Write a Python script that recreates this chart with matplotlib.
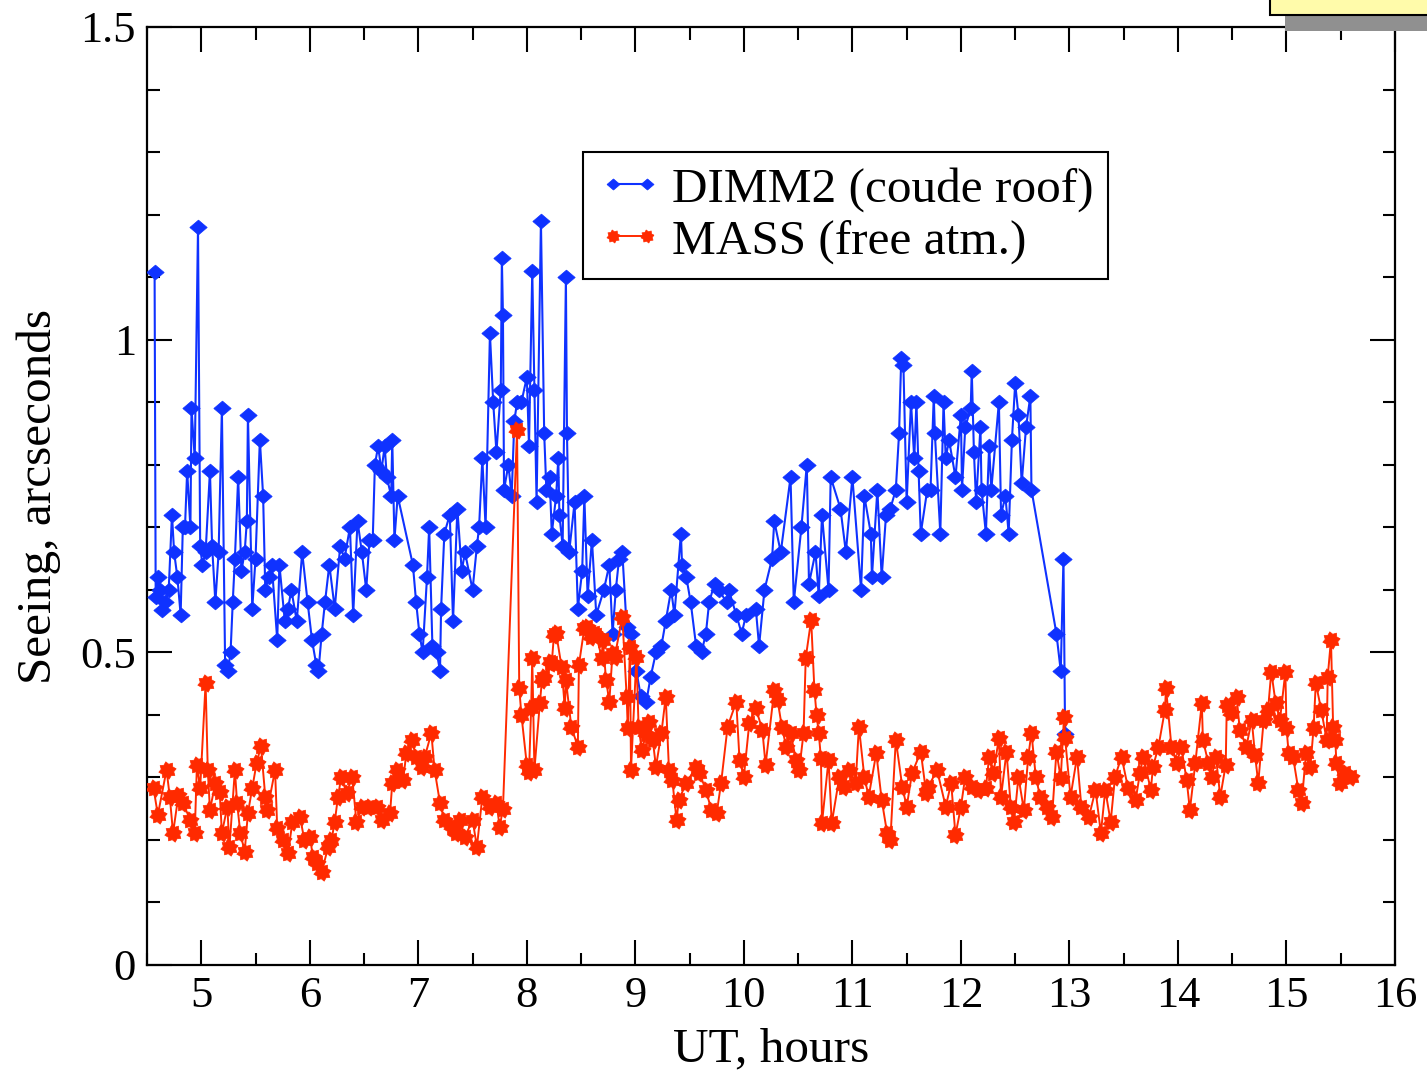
import matplotlib
matplotlib.use("Agg")
import math
import matplotlib.pyplot as plt
from matplotlib.patches import Rectangle
from matplotlib.ticker import MultipleLocator, FixedLocator

plt.rcParams['font.family'] = ['Liberation Serif', 'DejaVu Serif']

# ---------------- data ----------------
dimm_t = [4.57, 4.58, 4.60, 4.62, 4.64, 4.67, 4.70, 4.73, 4.75, 4.78, 4.81, 4.83, 4.85, 4.87, 4.90,
          4.91, 4.94, 4.97, 4.99, 5.01, 5.04, 5.08, 5.10, 5.13, 5.16, 5.19, 5.22, 5.245, 5.27, 5.29,
          5.31, 5.34, 5.37, 5.40, 5.42, 5.43, 5.47, 5.50, 5.54, 5.57, 5.59, 5.62, 5.65, 5.70, 5.72,
          5.77, 5.80, 5.83, 5.88, 5.93, 5.98, 6.02, 6.06, 6.08, 6.11, 6.14, 6.18, 6.23, 6.28, 6.32,
          6.37, 6.40, 6.44, 6.48, 6.52, 6.55, 6.58, 6.60, 6.63, 6.66, 6.69, 6.71, 6.75, 6.76, 6.78,
          6.81, 6.95, 6.98, 7.01, 7.04, 7.08, 7.10, 7.13, 7.17, 7.20, 7.21, 7.24, 7.29, 7.32, 7.36,
          7.40, 7.43, 7.50, 7.54, 7.56, 7.59, 7.62, 7.66, 7.69, 7.72, 7.76, 7.77, 7.78, 7.79, 7.83,
          7.86, 7.885, 7.91, 7.95, 8.00, 8.02, 8.05, 8.07, 8.09, 8.13, 8.16, 8.18, 8.21, 8.23, 8.27,
          8.29, 8.30, 8.33, 8.36, 8.37, 8.39, 8.44, 8.47, 8.51, 8.53, 8.56, 8.60, 8.64, 8.71, 8.76,
          8.79, 8.82, 8.85, 8.88, 8.92, 8.96, 9.01, 9.05, 9.10, 9.14, 9.19, 9.24, 9.28, 9.33, 9.36,
          9.42, 9.43, 9.47, 9.51, 9.56, 9.61, 9.65, 9.68, 9.73, 9.77, 9.84, 9.86, 9.93, 9.98, 10.02,
          10.11, 10.14, 10.19, 10.26, 10.28, 10.34, 10.43, 10.46, 10.53, 10.58, 10.60, 10.66, 10.69, 10.72, 10.78,
          10.80, 10.89, 10.94, 11.00, 11.08, 11.11, 11.17, 11.18, 11.23, 11.27, 11.31, 11.35, 11.40, 11.43, 11.45,
          11.47, 11.50, 11.54, 11.57, 11.59, 11.61, 11.63, 11.69, 11.72, 11.75, 11.76, 11.81, 11.84, 11.86, 11.89,
          11.95, 12.00, 12.01, 12.04, 12.09, 12.10, 12.12, 12.14, 12.18, 12.19, 12.23, 12.26, 12.28, 12.35, 12.37,
          12.41, 12.44, 12.47, 12.50, 12.53, 12.56, 12.60, 12.64, 12.65, 12.88, 12.92, 12.945, 12.96]
dimm_v = [1.108, 0.589, 0.62, 0.60, 0.568, 0.58, 0.60, 0.72, 0.66, 0.62, 0.56, 0.70, 0.70, 0.79, 0.70,
          0.89, 0.81, 1.18, 0.67, 0.64, 0.66, 0.79, 0.67, 0.58, 0.66, 0.89, 0.48, 0.47, 0.50, 0.58,
          0.65, 0.78, 0.63, 0.66, 0.71, 0.88, 0.57, 0.65, 0.84, 0.75, 0.60, 0.62, 0.64, 0.52, 0.64,
          0.55, 0.57, 0.60, 0.55, 0.66, 0.58, 0.52, 0.48, 0.47, 0.53, 0.58, 0.64, 0.57, 0.67, 0.65,
          0.70, 0.56, 0.71, 0.66, 0.60, 0.68, 0.68, 0.80, 0.83, 0.79, 0.83, 0.78, 0.75, 0.84, 0.68,
          0.75, 0.64, 0.58, 0.53, 0.50, 0.62, 0.70, 0.51, 0.50, 0.47, 0.57, 0.69, 0.72, 0.55, 0.73,
          0.63, 0.66, 0.60, 0.67, 0.70, 0.81, 0.70, 1.01, 0.90, 0.82, 0.92, 1.13, 1.04, 0.76, 0.80,
          0.75, 0.87, 0.90, 0.90, 0.94, 0.83, 1.11, 0.92, 0.74, 1.19, 0.85, 0.76, 0.78, 0.69, 0.75,
          0.81, 0.72, 0.67, 1.10, 0.85, 0.66, 0.74, 0.57, 0.63, 0.75, 0.59, 0.68, 0.56, 0.60, 0.64,
          0.53, 0.60, 0.65, 0.66, 0.54, 0.53, 0.47, 0.43, 0.42, 0.46, 0.50, 0.51, 0.55, 0.60, 0.56,
          0.69, 0.64, 0.62, 0.58, 0.51, 0.50, 0.53, 0.58, 0.61, 0.60, 0.58, 0.60, 0.56, 0.53, 0.56,
          0.57, 0.51, 0.60, 0.65, 0.71, 0.66, 0.78, 0.58, 0.70, 0.80, 0.61, 0.66, 0.59, 0.72, 0.60,
          0.78, 0.73, 0.66, 0.78, 0.60, 0.75, 0.69, 0.62, 0.76, 0.62, 0.72, 0.73, 0.76, 0.85, 0.97,
          0.96, 0.74, 0.90, 0.81, 0.90, 0.79, 0.69, 0.76, 0.76, 0.91, 0.85, 0.69, 0.90, 0.81, 0.84,
          0.78, 0.88, 0.76, 0.86, 0.89, 0.95, 0.82, 0.74, 0.86, 0.76, 0.69, 0.83, 0.76, 0.90, 0.72,
          0.75, 0.69, 0.84, 0.93, 0.88, 0.77, 0.86, 0.91, 0.76, 0.53, 0.47, 0.65, 0.37]

mass_t = [4.56, 4.60, 4.68, 4.71, 4.74, 4.79, 4.83, 4.90, 4.94, 4.96, 4.99, 5.04, 5.06, 5.08, 5.13,
          5.17, 5.19, 5.24, 5.26, 5.31, 5.33, 5.36, 5.40, 5.43, 5.47, 5.51, 5.55, 5.59, 5.61, 5.68,
          5.70, 5.75, 5.80, 5.84, 5.91, 5.95, 6.00, 6.03, 6.07, 6.11, 6.17, 6.20, 6.23, 6.26, 6.29,
          6.34, 6.39, 6.43, 6.48, 6.55, 6.62, 6.67, 6.74, 6.76, 6.80, 6.86, 6.89, 6.94, 6.98, 7.03,
          7.06, 7.12, 7.15, 7.20, 7.24, 7.31, 7.35, 7.38, 7.43, 7.50, 7.54, 7.59, 7.66, 7.72, 7.75,
          7.78, 7.91, 7.93, 7.95, 8.00, 8.02, 8.04, 8.05, 8.07, 8.12, 8.14, 8.16, 8.21, 8.23, 8.25,
          8.27, 8.32, 8.35, 8.36, 8.41, 8.47, 8.48, 8.53, 8.55, 8.59, 8.62, 8.64, 8.69, 8.70, 8.73,
          8.76, 8.79, 8.81, 8.88, 8.92, 8.93, 8.95, 8.96, 9.01, 9.03, 9.06, 9.10, 9.13, 9.16, 9.19,
          9.24, 9.28, 9.31, 9.34, 9.38, 9.40, 9.47, 9.56, 9.59, 9.65, 9.70, 9.75, 9.79, 9.85, 9.93,
          9.96, 10.00, 10.05, 10.11, 10.17, 10.20, 10.28, 10.31, 10.35, 10.39, 10.43, 10.48, 10.51, 10.55, 10.57,
          10.62, 10.65, 10.67, 10.69, 10.71, 10.72, 10.78, 10.81, 10.88, 10.92, 10.97, 11.03, 11.06, 11.11, 11.15,
          11.22, 11.27, 11.32, 11.35, 11.40, 11.46, 11.50, 11.55, 11.63, 11.68, 11.70, 11.78, 11.86, 11.91, 11.95,
          12.00, 12.04, 12.10, 12.17, 12.23, 12.26, 12.30, 12.35, 12.37, 12.42, 12.46, 12.49, 12.53, 12.58, 12.62,
          12.65, 12.69, 12.73, 12.79, 12.84, 12.88, 12.92, 12.95, 12.96, 13.01, 13.07, 13.11, 13.18, 13.24, 13.29,
          13.33, 13.38, 13.42, 13.48, 13.54, 13.61, 13.65, 13.68, 13.75, 13.77, 13.82, 13.88, 13.89, 13.94, 13.99,
          14.03, 14.08, 14.11, 14.16, 14.22, 14.23, 14.28, 14.31, 14.35, 14.39, 14.44, 14.45, 14.49, 14.54, 14.57,
          14.63, 14.68, 14.71, 14.74, 14.79, 14.83, 14.86, 14.90, 14.94, 14.99, 15.00, 15.02, 15.06, 15.11, 15.14,
          15.18, 15.22, 15.25, 15.27, 15.32, 15.37, 15.38, 15.41, 15.43, 15.45, 15.46, 15.49, 15.54, 15.59]
mass_v = [0.283, 0.240, 0.312, 0.269, 0.211, 0.272, 0.259, 0.232, 0.211, 0.320, 0.283, 0.451, 0.312, 0.248, 0.291,
          0.277, 0.211, 0.253, 0.189, 0.312, 0.259, 0.211, 0.181, 0.243, 0.283, 0.323, 0.350, 0.269, 0.248, 0.312,
          0.219, 0.200, 0.179, 0.229, 0.237, 0.200, 0.205, 0.173, 0.163, 0.149, 0.189, 0.200, 0.229, 0.269, 0.301,
          0.275, 0.301, 0.229, 0.253, 0.253, 0.253, 0.232, 0.243, 0.291, 0.312, 0.296, 0.339, 0.360, 0.333, 0.317,
          0.333, 0.371, 0.312, 0.259, 0.232, 0.221, 0.211, 0.232, 0.205, 0.232, 0.189, 0.269, 0.253, 0.259, 0.221,
          0.250, 0.855, 0.443, 0.400, 0.320, 0.309, 0.411, 0.491, 0.312, 0.419, 0.456, 0.461, 0.485, 0.483, 0.528,
          0.531, 0.477, 0.411, 0.456, 0.381, 0.349, 0.480, 0.539, 0.541, 0.525, 0.531, 0.528, 0.491, 0.520, 0.456,
          0.421, 0.499, 0.493, 0.557, 0.429, 0.379, 0.509, 0.312, 0.493, 0.380, 0.344, 0.370, 0.389, 0.360, 0.317,
          0.371, 0.429, 0.312, 0.296, 0.232, 0.264, 0.291, 0.317, 0.307, 0.280, 0.248, 0.243, 0.291, 0.381, 0.421,
          0.328, 0.301, 0.387, 0.411, 0.376, 0.320, 0.440, 0.424, 0.381, 0.349, 0.371, 0.328, 0.312, 0.371, 0.491,
          0.552, 0.440, 0.400, 0.371, 0.331, 0.227, 0.328, 0.227, 0.301, 0.285, 0.312, 0.291, 0.381, 0.301, 0.269,
          0.339, 0.264, 0.211, 0.200, 0.360, 0.285, 0.253, 0.307, 0.341, 0.275, 0.285, 0.312, 0.253, 0.291, 0.208,
          0.253, 0.301, 0.285, 0.280, 0.283, 0.333, 0.307, 0.363, 0.269, 0.341, 0.253, 0.229, 0.301, 0.248, 0.333,
          0.371, 0.301, 0.269, 0.253, 0.237, 0.341, 0.299, 0.397, 0.363, 0.269, 0.333, 0.253, 0.237, 0.280, 0.211,
          0.280, 0.229, 0.301, 0.333, 0.283, 0.264, 0.307, 0.333, 0.280, 0.317, 0.349, 0.408, 0.443, 0.349, 0.323,
          0.349, 0.296, 0.248, 0.323, 0.419, 0.360, 0.323, 0.301, 0.333, 0.269, 0.320, 0.416, 0.403, 0.429, 0.376,
          0.349, 0.392, 0.336, 0.291, 0.392, 0.408, 0.469, 0.419, 0.392, 0.469, 0.379, 0.339, 0.333, 0.280, 0.259,
          0.339, 0.317, 0.379, 0.451, 0.408, 0.360, 0.461, 0.520, 0.381, 0.360, 0.323, 0.291, 0.307, 0.301]

dimm_label = "DIMM2 (coude roof)"
mass_label = "MASS (free atm.)"
x_label = "UT, hours"
y_label = "Seeing, arcseconds"
x_ticks = [5, 6, 7, 8, 9, 10, 11, 12, 13, 14, 15, 16]
y_ticks = [0, 0.5, 1.0, 1.5]
y_tick_labels = ["0", "0.5", "1", "1.5"]

# ---------------- figure ----------------
W, H = 1427, 1072
fig = plt.figure(figsize=(W / 100, H / 100), dpi=100)
L, R, T, B = 147, 1395, 27, 965
ax = fig.add_axes([L / W, 1 - B / H, (R - L) / W, (B - T) / H])

blue = '#0f32ff'
red = '#ff2a00'
diamond = [(-1, 0), (0, 0.85), (1, 0), (0, -0.85), (-1, 0)]
splat = []
for k in range(16):
    r = 1.0 if k % 2 == 0 else 0.72
    a = math.pi * k / 8 + math.pi / 16
    splat.append((r * math.cos(a), r * math.sin(a)))
splat.append(splat[0])

ax.plot(dimm_t, dimm_v, color=blue, lw=1.5, marker=diamond, ms=12.5,
        mec=blue, mfc=blue, mew=0.5, label=dimm_label, zorder=3)
ax.plot(mass_t, mass_v, color=red, lw=1.4, marker=splat, ms=12.5,
        mec=red, mfc=red, mew=0.5, label=mass_label, zorder=4)

ax.set_xlim(4.5, 16)
ax.set_ylim(0, 1.5)
ax.xaxis.set_major_locator(FixedLocator(x_ticks))
ax.xaxis.set_minor_locator(MultipleLocator(0.5))
ax.yaxis.set_major_locator(FixedLocator(y_ticks))
ax.yaxis.set_minor_locator(MultipleLocator(0.1))
ax.set_yticklabels(y_tick_labels)

ax.tick_params(which='both', direction='in', top=True, right=True, width=1.5,
               labelsize=32, colors='black')
ax.tick_params(which='major', length=18, pad=8)
ax.tick_params(which='minor', length=9)
for s in ax.spines.values():
    s.set_linewidth(1.6)

ax.set_xlabel(x_label, fontsize=35.5, labelpad=8)
ax.set_ylabel(y_label, fontsize=35.5, labelpad=14)

leg = ax.legend(loc='upper left', bbox_to_anchor=((583 - L) / (R - L), (B - 152) / (B - T)),
                borderaxespad=0, fontsize=35.5, numpoints=2, markerscale=0.75,
                handlelength=1.3, handletextpad=0.2, borderpad=0.3,
                labelspacing=0.15, fancybox=False, shadow=False, framealpha=1,
                edgecolor='black')
leg.get_frame().set_linewidth(1.5)

# yellow note box at the top-right corner with gray shadow
fig.add_artist(Rectangle((1285 / W, 1 - 31 / H), (W - 1285) / W, 16 / H,
                         transform=fig.transFigure, facecolor='#909090',
                         edgecolor='none', zorder=10))
fig.add_artist(Rectangle((1270 / W, 1 - 15 / H), (W - 1270 + 10) / W, 30 / H,
                         transform=fig.transFigure, facecolor='#fffbaa',
                         edgecolor='black', linewidth=1.5, zorder=11, clip_on=False))

fig.savefig('out.png', dpi=100)
